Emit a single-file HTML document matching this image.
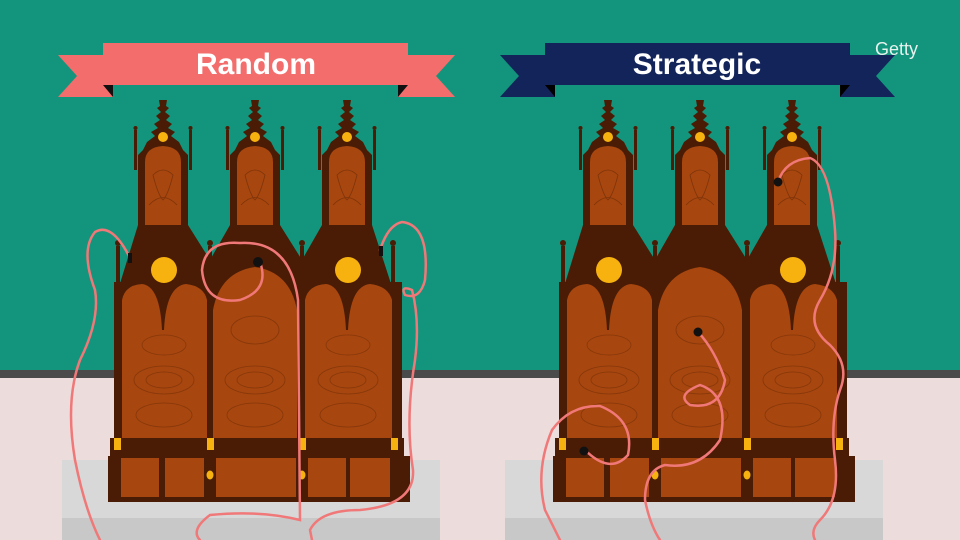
<!DOCTYPE html>
<html><head><meta charset="utf-8"><style>
html,body{margin:0;padding:0;width:960px;height:540px;overflow:hidden;background:#12957c}
svg{display:block}
</style></head><body>
<svg width="960" height="540" viewBox="0 0 960 540" xmlns="http://www.w3.org/2000/svg">
<defs>
<g id="tower">
  <path d="M-4,100 L4,100 L3,106 L6,108 L2,112 L7,116 L3,120 L9,124 L5,128 L12,132 L8,136 L16,142 L20,150 L25,155 L25,225 L-25,225 L-25,155 L-20,150 L-16,142 L-8,136 L-12,132 L-5,128 L-9,124 L-3,120 L-7,116 L-2,112 L-6,108 L-3,106 Z" fill="#4a1c06"/>
  <rect x="-29" y="130" width="3" height="40" fill="#4a1c06"/><circle cx="-27.5" cy="128" r="2" fill="#4a1c06"/>
  <rect x="26" y="130" width="3" height="40" fill="#4a1c06"/><circle cx="27.5" cy="128" r="2" fill="#4a1c06"/>
  <circle cx="0" cy="137" r="5" fill="#f7b20f"/>
  <path d="M-18,225 L-18,162 Q-18,147 0,146 Q18,147 18,162 L18,225 Z" fill="#a7460e"/>
  <path d="M-10,175 Q0,165 10,175 Q5,195 0,200 Q-5,195 -10,175 Z M-14,205 Q0,190 14,205" fill="none" stroke="#7e340a" stroke-width="0.8"/>
</g>
<g id="cab">
  <path d="M118,290 L138,225 L188,225 L210,260 L230,225 L280,225 L302,260 L322,225 L372,225 L393,290 Z" fill="#4a1c06"/>
  <use href="#tower" x="163"/>
  <use href="#tower" x="255"/>
  <use href="#tower" x="347"/>
  <rect x="114" y="282" width="288" height="160" fill="#4a1c06"/>
  <g fill="#4a1c06">
   <rect x="116" y="246" width="4" height="200"/><circle cx="118" cy="243" r="3"/>
   <rect x="208" y="246" width="4" height="200"/><circle cx="210" cy="243" r="3"/>
   <rect x="300" y="246" width="4" height="200"/><circle cx="302" cy="243" r="3"/>
   <rect x="391" y="246" width="4" height="200"/><circle cx="393" cy="243" r="3"/>
  </g>
  <path d="M122,440 L122,300 Q125,285 142,284 Q160,286 162,330 L164,330 Q166,286 186,284 Q204,286 207,300 L207,440 Z" fill="#a7460e"/>
  <path d="M213,440 L213,310 Q220,272 255,267 Q290,272 297,310 L297,440 Z" fill="#a7460e"/>
  <path d="M305,440 L305,300 Q308,285 326,284 Q344,286 346,330 L348,330 Q350,286 370,284 Q388,286 392,300 L392,440 Z" fill="#a7460e"/>
  <g fill="none" stroke="#7e340a" stroke-width="0.8" opacity="0.8">
   <ellipse cx="164" cy="380" rx="30" ry="14"/><ellipse cx="164" cy="380" rx="18" ry="8"/><ellipse cx="164" cy="345" rx="22" ry="10"/><ellipse cx="164" cy="415" rx="28" ry="12"/>
   <ellipse cx="255" cy="380" rx="30" ry="14"/><ellipse cx="255" cy="380" rx="18" ry="8"/><ellipse cx="255" cy="330" rx="24" ry="14"/><ellipse cx="255" cy="415" rx="28" ry="12"/>
   <ellipse cx="348" cy="380" rx="30" ry="14"/><ellipse cx="348" cy="380" rx="18" ry="8"/><ellipse cx="348" cy="345" rx="22" ry="10"/><ellipse cx="348" cy="415" rx="28" ry="12"/>
  </g>
  <circle cx="164" cy="270" r="13" fill="#f7b20f"/>
  <circle cx="348" cy="270" r="13" fill="#f7b20f"/>
  <rect x="110" y="438" width="294" height="20" fill="#4a1c06"/>
  <g fill="#f7b20f"><rect x="114" y="438" width="7" height="12"/><rect x="207" y="438" width="7" height="12"/><rect x="299" y="438" width="7" height="12"/><rect x="391" y="438" width="7" height="12"/></g>
  <rect x="108" y="456" width="302" height="46" fill="#4a1c06"/>
  <g fill="#a7460e">
   <rect x="121" y="458" width="38" height="39"/><rect x="165" y="458" width="39" height="39"/>
   <rect x="216" y="458" width="80" height="39"/>
   <rect x="308" y="458" width="38" height="39"/><rect x="350" y="458" width="40" height="39"/>
  </g>
  <g fill="#f7b20f"><ellipse cx="210" cy="475" rx="3.5" ry="4.5"/><ellipse cx="302" cy="475" rx="3.5" ry="4.5"/></g>
</g>
</defs>
<rect width="960" height="372" fill="#12957c"/>
<rect y="370" width="960" height="8" fill="#4a4a4a"/>
<rect y="378" width="960" height="162" fill="#ecdcdc"/>
<rect x="62" y="460" width="378" height="80" fill="#d8d8d8"/>
<rect x="62" y="518" width="378" height="22" fill="#c8c8c8"/>
<rect x="505" y="460" width="378" height="80" fill="#d8d8d8"/>
<rect x="505" y="518" width="378" height="22" fill="#c8c8c8"/>
<use href="#cab"/>
<use href="#cab" x="445"/>
<path d="M58,55 L113,55 L113,97 L58,97 L77,76 Z" fill="#f36d6d"/>
<path d="M455,55 L398,55 L398,97 L455,97 L436,76 Z" fill="#f36d6d"/>
<path d="M103,85 L113,97 L113,85 Z M408,85 L398,97 L398,85Z" fill="#111"/>
<rect x="103" y="43" width="305" height="42" fill="#f36d6d"/>
<text x="256" y="74" text-anchor="middle" font-family="Liberation Sans, sans-serif" font-weight="bold" font-size="30" fill="#fff">Random</text>
<path d="M500,55 L555,55 L555,97 L500,97 L519,76 Z" fill="#13245a"/>
<path d="M895,55 L840,55 L840,97 L895,97 L876,76 Z" fill="#13245a"/>
<path d="M545,85 L555,97 L555,85 Z M850,85 L840,97 L840,85Z" fill="#000"/>
<rect x="545" y="43" width="305" height="42" fill="#13245a"/>
<text x="697" y="74" text-anchor="middle" font-family="Liberation Sans, sans-serif" font-weight="bold" font-size="30" fill="#fff">Strategic</text>
<text x="875" y="55" font-family="Liberation Sans, sans-serif" font-size="18" fill="#e8f2ee">Getty</text>
<g fill="none" stroke="#f07878" stroke-width="2.5" stroke-linecap="round">
 <path d="M130,258 Q112,222 95,232 Q80,250 95,290 Q100,320 80,360 Q65,400 75,460 Q85,510 100,540"/>
 <path d="M260,262 Q270,290 240,300 Q205,305 202,270 Q205,240 240,243 Q290,240 298,300 L300,520 Q260,510 210,515 Q190,530 200,540"/>
 <path d="M380,250 Q388,225 402,222 Q430,225 425,280 Q420,300 405,295 Q400,285 412,290 Q420,320 415,360 Q405,420 413,470 Q415,505 360,510 Q320,510 310,530 L312,540"/>
 <path d="M778,182 Q785,160 810,158 Q830,165 835,230 Q838,270 820,300 Q805,325 830,345 Q850,365 840,390 Q830,420 835,460 Q840,500 820,520 Q810,530 815,540"/>
 <path d="M698,332 Q715,350 725,380 Q720,410 690,405 Q675,395 700,385 Q730,395 720,440 Q700,470 665,465 Q645,470 645,500 Q650,525 660,540"/>
 <path d="M585,450 Q610,475 628,455 Q635,420 600,406 Q570,405 552,430 Q535,470 545,510 Q555,530 560,540"/>
</g>
<g fill="#111"><circle cx="258" cy="262" r="5"/><circle cx="698" cy="332" r="4.5"/><circle cx="778" cy="182" r="4.5"/><circle cx="584" cy="451" r="4.5"/><rect x="128" y="253" width="4" height="10"/><rect x="379" y="246" width="4" height="10"/></g>
</svg>
</body></html>
